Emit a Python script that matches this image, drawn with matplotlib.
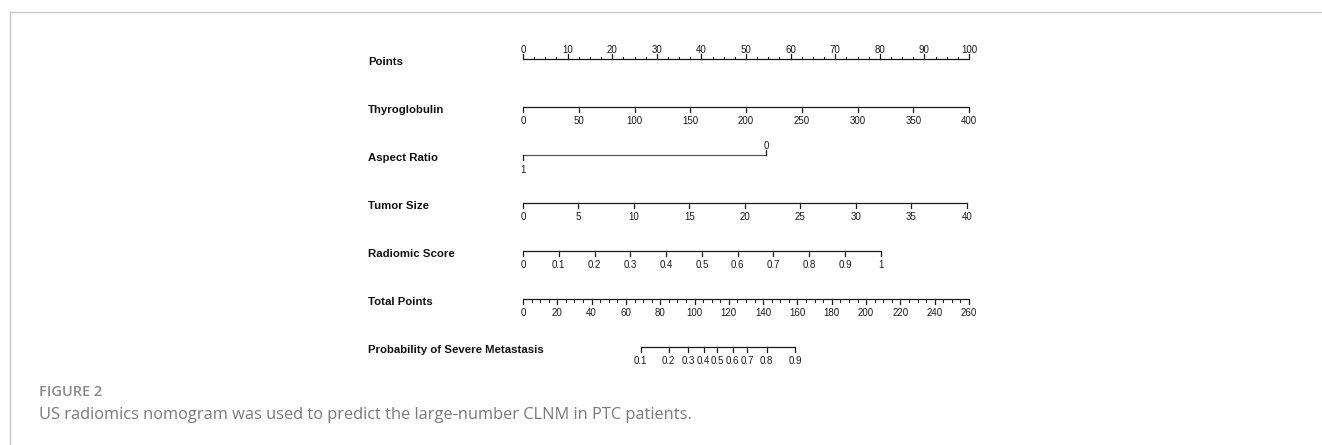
import numpy as np
import matplotlib
matplotlib.use("Agg")
import matplotlib.pyplot as plt
from matplotlib.lines import Line2D

# ---------------- data ----------------
row_labels = ["Points", "Thyroglobulin", "Aspect Ratio", "Tumor Size",
              "Radiomic Score", "Total Points", "Probability of Severe Metastasis"]

points_major = list(range(0, 101, 10))
points_minor = list(np.arange(0, 100.1, 2.5))

thyro_values = [0, 50, 100, 150, 200, 250, 300, 350, 400]
thyro_range = [0, 400]
thyro_pts_range = [0, 100]

aspect_labels = ["1", "0"]
aspect_points = [0, 54.5]

tumor_values = [0, 5, 10, 15, 20, 25, 30, 35, 40]
tumor_range = [0, 40]
tumor_pts_range = [0, 99.5]

radiomic_values = [0, 0.1, 0.2, 0.3, 0.4, 0.5, 0.6, 0.7, 0.8, 0.9, 1]
radiomic_labels = ["0", "0.1", "0.2", "0.3", "0.4", "0.5", "0.6", "0.7", "0.8", "0.9", "1"]
radiomic_range = [0, 1]
radiomic_pts_range = [0, 80.2]

total_major = list(range(0, 261, 20))
total_minor = list(range(0, 261, 5))
total_range = [0, 260]          # total points axis spans same width as Points 0-100

prob_labels = ["0.1", "0.2", "0.3", "0.4", "0.5", "0.6", "0.7", "0.8", "0.9"]
prob_total_points = [68.6, 84.9, 96.4, 105.4, 113.3, 122.3, 130.6, 142.1, 158.6]

caption_head = "FIGURE 2"
caption_text = "US radiomics nomogram was used to predict the large-number CLNM in PTC patients."

# ---------------- layout ----------------
W_PX, H_PX = 1322, 445
X0 = 523.0        # pixel of 0 points
XW = 446.0        # pixels for 100 points
Y0 = 59.0         # pixel of first row line
DY = 48.05        # pixels between rows

fig = plt.figure(figsize=(W_PX / 100, H_PX / 100), dpi=100)
ax = fig.add_axes([0, 0, 1, 1])
ax.set_xlim(-X0 * 100 / XW, (W_PX - X0) * 100 / XW)
ax.set_ylim((H_PX - Y0) / DY, -Y0 / DY)
ax.axis("off")

px = 1.0 / DY                    # one pixel in row units
LC = "#1a1a1a"
LW = 0.9
TICK_FONT = dict(family="Liberation Sans", size=7, color="#1a1a1a")
LAB_FONT = dict(family="Liberation Sans", size=8.2, weight="bold", color="#111111")
MAJ = 5 * px
MIN = 2.5 * px
BELOW = 14 * px
ABOVE = 9 * px


def axis_row(row, pts, labels, minor_pts=None, up=False, major_len=MAJ):
    lo, hi = min(pts), max(pts)
    ax.plot([lo, hi], [row, row], color=LC, lw=LW, solid_capstyle="butt")
    d = -1 if up else 1
    if minor_pts is not None:
        for p in minor_pts:
            ax.plot([p, p], [row, row + d * MIN], color=LC, lw=LW * 0.8)
    for p, lab in zip(pts, labels):
        ax.plot([p, p], [row, row + d * major_len], color=LC, lw=LW)
        if lab is not None:
            ax.text(p, row + (-ABOVE if up else BELOW), lab, ha="center",
                    va="center", **TICK_FONT)


# row labels
for i, lab in enumerate(row_labels):
    ax.text(-X0 * 100 / XW + 368 * 100 / XW, i + 3 * px, lab, ha="left",
            va="center", **LAB_FONT)

# Points
axis_row(0, points_major, [str(v) for v in points_major], points_minor, up=True)

# Thyroglobulin
tp = np.interp(thyro_values, thyro_range, thyro_pts_range)
axis_row(1, tp, [str(v) for v in thyro_values])

# Aspect ratio
r = 2
ax.plot([min(aspect_points), max(aspect_points)], [r, r], color="#555555", lw=LW)
ax.plot([aspect_points[0]] * 2, [r, r + MAJ], color=LC, lw=LW)
ax.text(aspect_points[0], r + BELOW + 0.5 * px, aspect_labels[0], ha="center",
        va="center", **TICK_FONT)
ax.plot([aspect_points[1]] * 2, [r, r - MAJ], color=LC, lw=LW)
ax.text(aspect_points[1], r - ABOVE, aspect_labels[1], ha="center",
        va="center", **TICK_FONT)

# Tumor size
tsp = np.interp(tumor_values, tumor_range, tumor_pts_range)
axis_row(3, tsp, [str(v) for v in tumor_values])

# Radiomic score
rsp = np.interp(radiomic_values, radiomic_range, radiomic_pts_range)
axis_row(4, rsp, radiomic_labels)

# Total points
tot_major_p = np.interp(total_major, total_range, [0, 100])
tot_minor_p = np.interp(total_minor, total_range, [0, 100])
axis_row(5, tot_major_p, [str(v) for v in total_major], tot_minor_p,
         major_len=MAJ)

# Probability
pp = np.interp(prob_total_points, total_range, [0, 100])
axis_row(6, pp, prob_labels)

# ---------------- frame and caption ----------------
fr = "#c8c8c8"
fig.add_artist(Line2D([10 / W_PX, 1.0], [1 - 11.5 / H_PX] * 2, color=fr, lw=1.0,
                      transform=fig.transFigure))
fig.add_artist(Line2D([10 / W_PX] * 2, [1 - 11.5 / H_PX, 0.0], color=fr, lw=1.0,
                      transform=fig.transFigure))

fig.text(39 / W_PX, 1 - 392 / H_PX, caption_head, ha="left", va="center",
         family="Open Sans", weight="semibold", size=10.5, color="#8a8a8a")
fig.text(39 / W_PX, 1 - 415 / H_PX, caption_text, ha="left", va="center",
         family="Open Sans", size=11.8, color="#7a7a7a")

fig.savefig("out.png", dpi=100)
